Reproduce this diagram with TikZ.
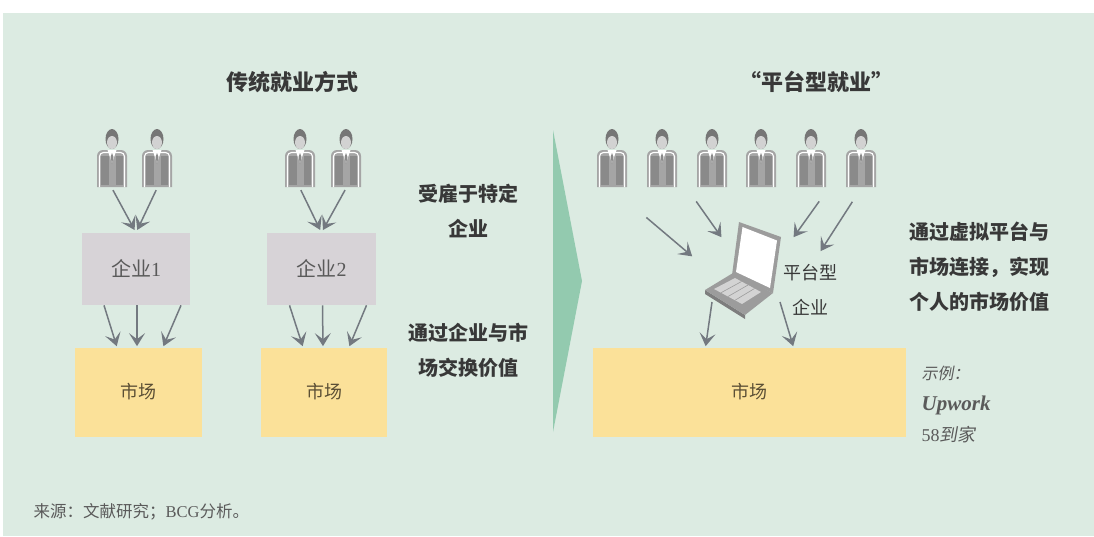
\documentclass[tikz,border=0pt]{standalone}
\usepackage{fontspec}
\setmainfont{Liberation Serif}
\newfontfamily\cjk{Noto Sans CJK SC}
\newfontfamily\cjkslant{Noto Sans CJK SC}[FakeSlant=0.18]
\usetikzlibrary{arrows.meta,calc}

\definecolor{panelbg}{HTML}{DCEBE2}
\definecolor{firmgray}{HTML}{D7D3D7}
\definecolor{marketyel}{HTML}{FBE199}
\definecolor{marketink}{HTML}{5B4F35}
\definecolor{arrowgray}{HTML}{737980}
\definecolor{chevron}{HTML}{93CAAF}
\definecolor{inkdark}{HTML}{383838}
\definecolor{inkmid}{HTML}{5A5A5A}
\definecolor{iconbody}{HTML}{A5A5A5}
\definecolor{iconjacket}{HTML}{8A8A8A}
\definecolor{iconhair}{HTML}{767676}
\definecolor{iconface}{HTML}{D2D2D2}
\definecolor{lapgray}{HTML}{9C9C9C}
\definecolor{keylight}{HTML}{D3D3D3}

\tikzset{> = {Stealth[length=13pt,width=16pt,inset=6pt]}, every picture/.style={line width=0.7pt}}

\tikzset{
  person/.pic={
    % jacket
    \fill[iconbody] (-15,29) [rounded corners=6pt] -- (-15,-8) -- (15,-8) [sharp corners] -- (15,29) -- cycle;
    \fill[iconjacket] (-11,-2) rectangle (-3.5,27);
    \fill[iconjacket] (3.5,-2) rectangle (11,27);
    \draw[white, line width=1.1pt, rounded corners=4pt] (-12.5,29) -- (-12.5,-5.5) -- (12.5,-5.5) -- (12.5,29);
    \fill[white] (-4.5,-8) -- (4.5,-8) -- (0,5) -- cycle;
    \fill[iconjacket] (0,-5) -- (1.5,-1) -- (0,6) -- (-1.5,-1) -- cycle;
    % head
    \fill[iconhair] (0,-19) ellipse [x radius=6.5, y radius=10];
    \fill[iconface] (0,-15.5) ellipse [x radius=5, y radius=6.5];
  },
  worker/.style={minimum width=32pt, minimum height=60pt, inner sep=0pt},
  title/.style={font=\cjk\bfseries\fontsize{22}{26}\selectfont, text=inkdark},
  note/.style={font=\cjk\bfseries\fontsize{20}{35}\selectfont, text=inkdark, align=center},
  firm/.style={fill=firmgray, minimum width=108pt, minimum height=72pt,
    font=\fontsize{20}{24}\selectfont, text=inkmid},
  market/.style={fill=marketyel, minimum height=89pt,
    font=\cjk\fontsize{18}{22}\selectfont, text=marketink},
  arr/.style={->, draw=arrowgray, line width=1.5pt, shorten >=1pt}
}

\begin{document}
\begin{tikzpicture}[x=1pt, y=-1pt]
\useasboundingbox (0,0) rectangle (1094,536);
\fill[white] (0,0) rectangle (1094,536);
\fill[panelbg] (3,13) rectangle (1094,536);

\node[title] (h1) at (292,82) {传统就业方式};
\node[title] (h2) at (816,82) {“平台型就业”};

\foreach \n/\x in {t1/112,t2/157,t3/300,t4/346,r1/612,r2/662,r3/712,r4/761,r5/811,r6/861} {
  \node[worker] (\n) at (\x,158) {};
  \pic at (\x,158) {person};
}

\node[firm] (c1) at (136,269) {{\cjk 企业}1};
\node[firm, minimum width=109pt] (c2) at (321.5,269) {{\cjk 企业}2};
\node[market, minimum width=127pt] (m1) at (138,392) {市场};
\node[market, minimum width=126pt] (m2) at (324,392) {市场};
\node[market, minimum width=313pt] (m3) at (749.5,392) {市场};

\fill[chevron] (553,130) -- (582,281) -- (553,432) -- cycle;

\node[note] (n1) at (468,211) {受雇于特定\\企业};
\node[note] (n2) at (468,350) {通过企业与市\\场交换价值};
\node[note, align=left, anchor=west] (n3) at (906,267) {通过虚拟平台与\\市场连接，实现\\个人的市场价值};

% laptop
\begin{scope}[line join=round]
\fill[lapgray!80!black] (705,290) -- (745,315) -- (745,319) -- (705,294) -- cycle;
\fill[lapgray] (705,290) -- (733,273) -- (773,293) -- (745,315) -- cycle;
\fill[keylight] (714,289) -- (735,278) -- (761,292) -- (742,304) -- cycle;
\foreach \s in {0.25,0.5,0.75}
  \draw[lapgray, line width=0.6pt] ($(714,289)!\s!(742,304)$) -- ($(735,278)!\s!(761,292)$);
\fill[lapgray] (739,222) -- (781,237) -- (773,293) -- (732,275) -- cycle;
\fill[white] (742.5,227) -- (777,240.5) -- (770,288) -- (736,272) -- cycle;
\end{scope}
\node[minimum width=78pt, minimum height=97pt] (lap) at (743,270) {};
\node[font=\cjk\fontsize{18}{35}\selectfont, text=inkdark, align=center] (pl) at (810,290) {平台型\\企业};

\coordinate (l1) at (693,257);
\coordinate (l2) at (722,238);
\coordinate (l3) at (793,238);
\coordinate (l4) at (820,252);
\coordinate (o1) at (712,302);
\coordinate (o2) at (780,302);

\node[anchor=west, align=left, text=inkmid, font=\fontsize{21}{31}\selectfont] (ex) at (918,404)
  {{\cjkslant\fontsize{16}{31}\selectfont 示例：}\\\textbf{\textit{Upwork}}\\{\fontsize{18}{31}\selectfont 58\cjkslant 到家}};
\node[anchor=west, text=inkmid, font=\cjk\fontsize{16.5}{20}\selectfont] (src) at (30,512) {来源：文献研究；{\rmfamily BCG}分析。};

\foreach \w in {t1,t2} \draw[arr, shorten <=2pt, shorten >=3pt] (\w.south) -- (c1.north);
\foreach \w in {t3,t4} \draw[arr, shorten <=2pt, shorten >=3pt] (\w.south) -- (c2.north);
\foreach \c/\m in {c1/m1,c2/m2}
  \foreach \a/\b in {-32/-21,1/-1,45/25}
    \draw[arr] ($(\c.south)+(\a,0)$) -- ($(\m.north)+(\b,0)$);

\draw[arr, shorten <=45pt] (r1.south) -- (l1);
\draw[arr, shorten <=16pt] ($(r2.south)!0.5!(r3.south)$) -- (l2);
\draw[arr, shorten <=16pt] ($(r5.south)!0.35!(r6.south)$) -- (l3);
\draw[arr, shorten <=16pt] (r6.south) -- (l4);
\draw[arr] (o1) -- ($(m3.north)+(-44,0)$);
\draw[arr] (o2) -- ($(m3.north)+(44,0)$);
\end{tikzpicture}
\end{document}
